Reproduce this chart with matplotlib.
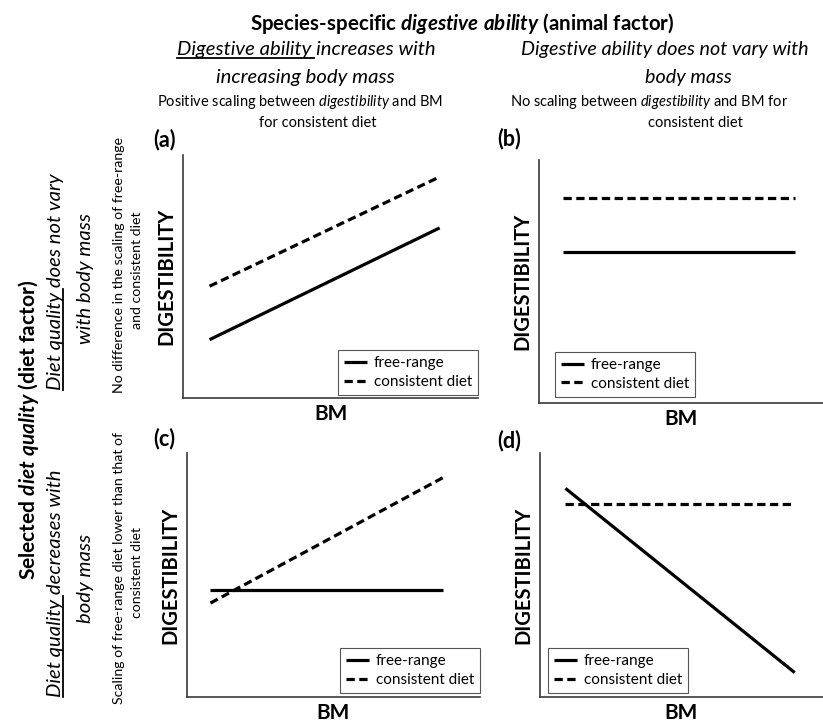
import matplotlib
matplotlib.use("Agg")
import matplotlib.pyplot as plt
from matplotlib.lines import Line2D

plt.rcParams['font.family'] = 'Lato'
plt.rcParams['mathtext.fontset'] = 'custom'
plt.rcParams['mathtext.rm'] = 'Lato'
plt.rcParams['mathtext.it'] = 'Lato:italic'
plt.rcParams['mathtext.bf'] = 'Lato:bold'
plt.rcParams['mathtext.bfit'] = 'Lato:bold:italic'

W, H = 823, 724

# conceptual data (axis range 0..10)
bm_a = [0.9, 8.7]
free_a = [2.4, 7.0]
cons_a = [4.6, 9.1]

bm_b = [0.85, 9.0]
free_b = [6.2, 6.2]
cons_b = [8.45, 8.45]

bm_c = [0.8, 8.75]
free_c = [4.4, 4.4]
cons_c = [3.85, 9.0]

bm_d = [0.9, 9.0]
free_d = [8.55, 1.0]
cons_d = [7.9, 7.9]

panel_names = ['(a)', '(b)', '(c)', '(d)']
series_names = ['free-range', 'consistent diet']

BIG = 14.6    # italic headers
SMALL = 10.5  # small explanation lines


def px(x, y):
    return x / W, 1 - y / H


def add_panel(fig, box, bm, free, cons, legend_loc, legend_anchor):
    l, t, r, b = box
    ax = fig.add_axes([l / W, 1 - b / H, (r - l) / W, (b - t) / H])
    ax.plot(bm, free, color='black', lw=2.3, solid_capstyle='butt', label=series_names[0])
    ax.plot(bm, cons, color='black', lw=2.3, ls=(0, (2.6, 1.4)), label=series_names[1])
    ax.set_xlim(0, 10)
    ax.set_ylim(0, 10)
    ax.set_xticks([])
    ax.set_yticks([])
    for s in ['top', 'right']:
        ax.spines[s].set_visible(False)
    for s in ['left', 'bottom']:
        ax.spines[s].set_color('#3a3a3a')
        ax.spines[s].set_linewidth(1.2)
    ax.set_ylabel('DIGESTIBILITY', fontsize=14.5, fontweight='bold', labelpad=5)
    ax.set_xlabel('BM', fontsize=15, fontweight='bold', labelpad=4)
    leg = ax.legend(loc=legend_loc, bbox_to_anchor=legend_anchor, borderaxespad=0,
                    fancybox=False, fontsize=11, handlelength=1.5, handletextpad=0.45,
                    labelspacing=0.3, borderpad=0.4, framealpha=1)
    leg.get_frame().set_edgecolor('#555555')
    leg.get_frame().set_linewidth(0.8)
    return ax


def underline(fig, txt, prefix, vertical=False, extra=3):
    # draw an underline below the first words of a text object
    r = fig.canvas.get_renderer()
    bb = txt.get_window_extent(r)
    tmp = fig.text(0, 0, prefix, fontsize=txt.get_fontsize(), style=txt.get_style(),
                   fontweight=txt.get_fontweight())
    w = tmp.get_window_extent(r).width + extra
    tmp.remove()
    inv = fig.transFigure.inverted()
    if vertical:
        p0 = inv.transform((bb.x1 - 1, bb.y0))
        p1 = inv.transform((bb.x1 - 1, bb.y0 + w))
    else:
        p0 = inv.transform((bb.x0, bb.y0 + 1))
        p1 = inv.transform((bb.x0 + w, bb.y0 + 1))
    fig.add_artist(Line2D([p0[0], p1[0]], [p0[1], p1[1]], transform=fig.transFigure,
                          color='black', lw=1.3))


fig = plt.figure(figsize=(W / 100, H / 100), dpi=100)

add_panel(fig, (183, 155, 478, 398), bm_a, free_a, cons_a, 'lower right', (1.0, 0.012))
add_panel(fig, (539, 160, 823, 403), bm_b, free_b, cons_b, 'lower left', (0.056, 0.025))
add_panel(fig, (187, 453, 480, 697), bm_c, free_c, cons_c, 'lower right', (1.0, 0.016))
add_panel(fig, (540, 453, 823, 697), bm_d, free_d, cons_d, 'lower left', (0.028, 0.016))

# panel letters
for name, (x, y) in zip(panel_names, [(153, 140), (497, 139), (153, 439), (497, 441)]):
    fig.text(*px(x, y), name, fontsize=15.5, fontweight='bold', ha='left', va='center')

# column headers
fig.text(*px(462, 23), r'Species-specific $\mathbfit{digestive\ ability}$ (animal factor)',
         fontsize=14.8, fontweight='bold', ha='center', va='center')
h1 = fig.text(*px(306, 50), 'Digestive ability increases with', fontsize=BIG,
              style='italic', ha='center', va='center')
fig.text(*px(305, 78), 'increasing body mass', fontsize=BIG, style='italic',
         ha='center', va='center')
fig.text(*px(300, 102), r'Positive scaling between $\mathit{digestibility}$ and BM',
         fontsize=SMALL, ha='center', va='center')
fig.text(*px(318, 123), 'for consistent diet', fontsize=SMALL, ha='center', va='center')

fig.text(*px(665, 50), 'Digestive ability does not vary with', fontsize=14.2,
         style='italic', ha='center', va='center')
fig.text(*px(688, 78), 'body mass', fontsize=14.2, style='italic', ha='center', va='center')
fig.text(*px(649, 102), r'No scaling between $\mathit{digestibility}$ and BM for',
         fontsize=SMALL, ha='center', va='center')
fig.text(*px(695, 123), 'consistent diet', fontsize=SMALL, ha='center', va='center')

# row headers
fig.text(*px(29, 430), r'Selected $\mathbfit{diet\ quality}$ (diet factor)', fontsize=15,
         fontweight='bold', rotation=90, ha='center', va='center')
r1 = fig.text(*px(56, 282), 'Diet quality does not vary', fontsize=BIG, style='italic',
              rotation=90, ha='center', va='center')
fig.text(*px(85, 278), 'with body mass', fontsize=BIG, style='italic', rotation=90,
         ha='center', va='center')
fig.text(*px(119, 265), 'No difference in the scaling of free-range', fontsize=10.2,
         rotation=90, ha='center', va='center')
fig.text(*px(137, 270), 'and consistent diet', fontsize=10.2, rotation=90,
         ha='center', va='center')

r2 = fig.text(*px(56, 583), 'Diet quality decreases with', fontsize=BIG, style='italic',
              rotation=90, ha='center', va='center')
fig.text(*px(85, 578), 'body mass', fontsize=BIG, style='italic', rotation=90,
         ha='center', va='center')
fig.text(*px(119, 568), 'Scaling of free-range diet lower than that of', fontsize=10.2,
         rotation=90, ha='center', va='center')
fig.text(*px(137, 573), 'consistent diet', fontsize=10.2, rotation=90,
         ha='center', va='center')

fig.canvas.draw()
underline(fig, h1, 'Digestive ability')
underline(fig, r1, 'Diet quality', vertical=True)
underline(fig, r2, 'Diet quality', vertical=True)

fig.savefig('out.png', dpi=100)
